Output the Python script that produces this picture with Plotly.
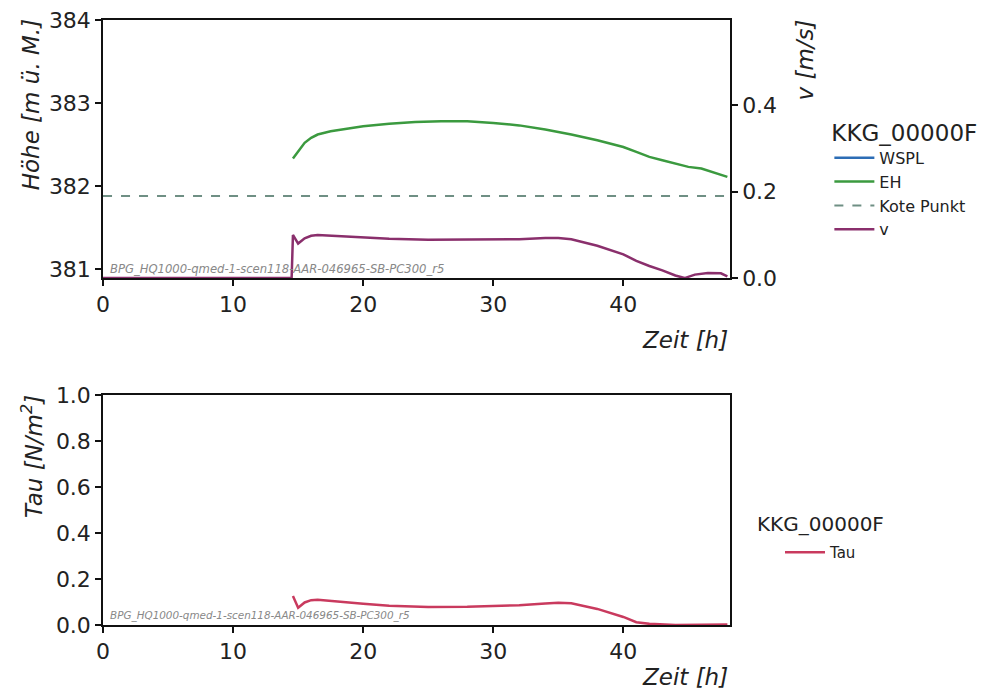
import plotly.graph_objects as go

# ---- data ----
t_eh = [14.6, 15.0, 15.5, 16.0, 16.5, 17.5, 19, 20, 22, 24, 26, 28, 30, 32, 34, 36, 38, 40, 41, 42, 43, 44, 45, 46, 47, 48]
eh = [382.33, 382.42, 382.52, 382.58, 382.62, 382.66, 382.70, 382.72, 382.75, 382.77, 382.78, 382.78, 382.76, 382.73, 382.68, 382.62, 382.55, 382.47, 382.41, 382.35, 382.31, 382.27, 382.23, 382.21, 382.16, 382.11]
kote_x = [0, 48.2]
kote_y = [381.88, 381.88]
t_v = [0, 14.5, 14.6, 15.0, 15.5, 16.0, 16.5, 18, 20, 22, 25, 28, 30, 32, 34, 35, 36, 38, 40, 41, 42, 43, 44, 44.7, 45.5, 46.5, 47.5, 48]
v = [0.0, 0.0, 0.100, 0.080, 0.092, 0.098, 0.100, 0.098, 0.094, 0.091, 0.089, 0.089, 0.089, 0.090, 0.093, 0.093, 0.090, 0.075, 0.055, 0.040, 0.028, 0.018, 0.006, 0.0, 0.008, 0.012, 0.011, 0.004]
t_tau = [14.6, 15.0, 15.5, 16.0, 16.5, 18, 20, 22, 25, 28, 30, 32, 34, 35, 36, 38, 40, 41, 42, 43, 44, 46, 48]
tau = [0.126, 0.075, 0.098, 0.108, 0.110, 0.102, 0.092, 0.084, 0.078, 0.079, 0.082, 0.086, 0.094, 0.097, 0.095, 0.070, 0.035, 0.012, 0.005, 0.002, 0.0, 0.001, 0.002]
run_label = "BPG_HQ1000-qmed-1-scen118-AAR-046965-SB-PC300_r5"
legend_title = "KKG_00000F"

FONT = "DejaVu Sans"
TXT = "#222222"

fig = go.Figure()
fig.add_trace(go.Scatter(x=[None], y=[None], name="WSPL", mode="lines",
                         line=dict(color="#2c6db5", width=2.5), xaxis="x", yaxis="y", legend="legend"))
fig.add_trace(go.Scatter(x=t_eh, y=eh, name="EH", mode="lines",
                         line=dict(color="#3b9a3f", width=2.5), xaxis="x", yaxis="y", legend="legend"))
fig.add_trace(go.Scatter(x=kote_x, y=kote_y, name="Kote Punkt", mode="lines",
                         line=dict(color="#6f8f84", width=2, dash="dash"), xaxis="x", yaxis="y", legend="legend"))
fig.add_trace(go.Scatter(x=t_v, y=v, name="v", mode="lines",
                         line=dict(color="#8a2f6c", width=2.5), xaxis="x", yaxis="y2", legend="legend"))
fig.add_trace(go.Scatter(x=t_tau, y=tau, name="Tau", mode="lines",
                         line=dict(color="#c93a5e", width=2.5), xaxis="x2", yaxis="y3", legend="legend2"))

axis_common = dict(showline=True, linecolor="#111111", linewidth=1.5, ticks="outside", ticklen=6,
                   tickwidth=1.5, tickcolor="#111111", showgrid=False, zeroline=False, automargin=False,
                   tickfont=dict(family=FONT, size=22, color=TXT))

xd = [0.1046, 0.7411]
fig.update_layout(
    width=985, height=690,
    margin=dict(l=0, r=0, t=0, b=0, autoexpand=False),
    paper_bgcolor="white", plot_bgcolor="white",
    showlegend=True,
    xaxis=dict(domain=xd, anchor="y", range=[0, 48.2], tickvals=[0, 10, 20, 30, 40], mirror=True, **axis_common),
    yaxis=dict(domain=[0.597, 0.971], anchor="x", range=[380.89, 384], tickvals=[381, 382, 383, 384], **axis_common),
    yaxis2=dict(overlaying="y", side="right", anchor="x", range=[0, 0.598], tickvals=[0, 0.2, 0.4],
                ticktext=["0.0", "0.2", "0.4"], **axis_common),
    xaxis2=dict(domain=xd, anchor="y3", range=[0, 48.2], tickvals=[0, 10, 20, 30, 40], mirror=True, **axis_common),
    yaxis3=dict(domain=[0.0942, 0.4275], anchor="x2", range=[0, 1], tickvals=[0, 0.2, 0.4, 0.6, 0.8, 1.0],
                ticktext=["0.0", "0.2", "0.4", "0.6", "0.8", "1.0"], mirror=True, **axis_common),
    legend=dict(x=0.842, y=1 - 111 / 690, xanchor="left", yanchor="top", bgcolor="rgba(0,0,0,0)",
                title=dict(text=legend_title, font=dict(family=FONT, size=23, color=TXT)),
                font=dict(family=FONT, size=16, color=TXT), tracegroupgap=0, itemwidth=40),
    legend2=dict(x=780 / 985, y=1 - 536 / 690, xanchor="left", yanchor="top",
                 bgcolor="rgba(0,0,0,0)",
                 font=dict(family=FONT, size=15, color=TXT), itemwidth=40),
)

ann_font = dict(family=FONT, size=23, color=TXT)
annotations = [
    dict(text="<i>Höhe [m ü. M.]</i>", textangle=-90, x=0.031, y=0.975, xref="paper", yref="paper",
         xanchor="center", yanchor="top", showarrow=False, font=ann_font),
    dict(text="<i>v [m/s]</i>", textangle=-90, x=0.817, y=0.975, xref="paper", yref="paper",
         xanchor="center", yanchor="top", showarrow=False, font=ann_font),
    dict(text="<i>Zeit [h]</i>", x=0.7411, y=1 - 340 / 690, xref="paper", yref="paper",
         xanchor="right", yanchor="middle", showarrow=False, font=ann_font),
    dict(text="<i>Tau [N/m<sup>2</sup>]</i>", textangle=-90, x=0.033, y=0.4305, xref="paper", yref="paper",
         xanchor="center", yanchor="top", showarrow=False, font=ann_font),
    dict(text="<i>Zeit [h]</i>", x=0.7411, y=1 - 677 / 690, xref="paper", yref="paper",
         xanchor="right", yanchor="middle", showarrow=False, font=ann_font),
    dict(text=legend_title, x=755 / 985, y=1 - 524 / 690, xref="paper", yref="paper",
         xanchor="left", yanchor="middle", showarrow=False, font=dict(family=FONT, size=20, color=TXT)),
    dict(text="<i>" + run_label + "</i>", x=0.0, y=380.89, xref="x", yref="y", xanchor="left", yanchor="bottom",
         showarrow=False, xshift=5, yshift=0, font=dict(family=FONT, size=11.6, color="#888888")),
    dict(text="<i>" + run_label + "</i>", x=0.0, y=0.0, xref="x2", yref="y3", xanchor="left", yanchor="bottom",
         showarrow=False, xshift=5, yshift=1, font=dict(family=FONT, size=10.4, color="#888888")),
]
fig.update_layout(annotations=annotations)

fig.write_html("out.html")
